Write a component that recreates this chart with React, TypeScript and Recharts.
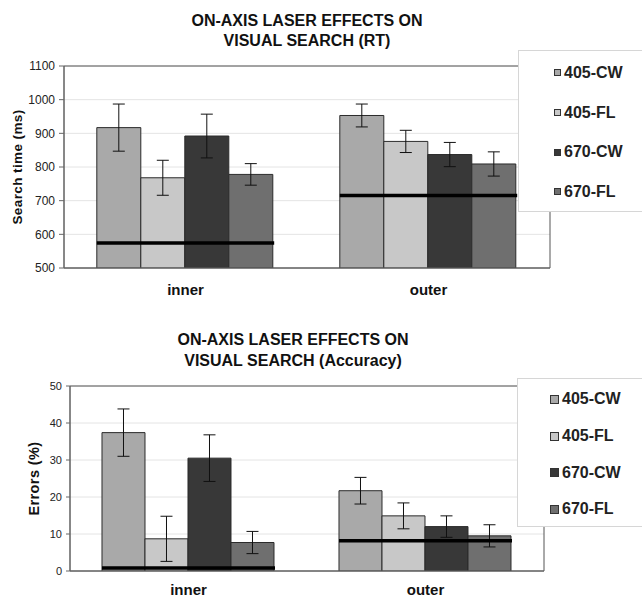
import {
  Bar,
  CartesianGrid,
  ComposedChart,
  ErrorBar,
  Legend,
  Line,
  ReferenceArea,
  XAxis,
  YAxis,
} from 'recharts';

const categories = ['inner', 'outer'];
const seriesNames = ['405-CW', '405-FL', '670-CW', '670-FL'];
const seriesColors = ['#a9a9a9', '#c8c8c8', '#383838', '#6f6f6f'];

// search time (ms)
const rt405cw = [917, 953];
const rt405fl = [768, 876];
const rt670cw = [892, 837];
const rt670fl = [778, 809];
const rtErr405cw = [70, 34];
const rtErr405fl = [52, 33];
const rtErr670cw = [65, 36];
const rtErr670fl = [32, 36];
const rtBaseline = [574, 715];
const rtTicks = [500, 600, 700, 800, 900, 1000, 1100];

// errors (%)
const acc405cw = [37.4, 21.7];
const acc405fl = [8.7, 14.9];
const acc670cw = [30.5, 12.0];
const acc670fl = [7.7, 9.5];
const accErr405cw = [6.4, 3.6];
const accErr405fl = [6.1, 3.5];
const accErr670cw = [6.3, 2.9];
const accErr670fl = [3.0, 3.0];
const accBaseline = [0.8, 8.2];
const accTicks = [0, 10, 20, 30, 40, 50];

const NARROW = "'Liberation Sans Narrow', 'Arial Narrow', 'Liberation Sans', Arial, sans-serif";
const WIDE = "'Liberation Sans', Arial, sans-serif";

const buildRows = (values: number[][], errors: number[][], baseline: number[]) =>
  categories.map((name, i) => {
    const row: Record<string, number | string> = { name, base: baseline[i] };
    values.forEach((v, s) => {
      row[`s${s}`] = v[i];
      row[`e${s}`] = errors[s][i];
    });
    return row;
  });

const rtRows = buildRows(
  [rt405cw, rt405fl, rt670cw, rt670fl],
  [rtErr405cw, rtErr405fl, rtErr670cw, rtErr670fl],
  rtBaseline
);
const accRows = buildRows(
  [acc405cw, acc405fl, acc670cw, acc670fl],
  [accErr405cw, accErr405fl, accErr670cw, accErr670fl],
  accBaseline
);

const GAP = 0.135;

interface PanelProps {
  top: number;
  height: number;
  rows: Record<string, number | string>[];
  ticks: number[];
  yLabel: string;
  font: string;
  axisW: number;
  marginTop: number;
  marginRight: number;
  xAxisH: number;
  tickFont: number;
  tickSize: number;
  catFont: number;
  catMargin: number;
  labelFont: number;
  labelDx: number;
  title: string[];
  titleFont: number;
  titleX: number;
  titleY: number;
  titleLineH: number;
  legend: { left: number; top: number; height: number; itemH: number; padTop: number; swatchX: number; swatch: number; font: number };
}

const Panel = (p: PanelProps) => {
  const width = 642;
  const plotW = width - p.axisW - p.marginRight;
  const halfGroup = ((plotW / categories.length) * (1 - 2 * GAP)) / 2;
  const domain = [p.ticks[0], p.ticks[p.ticks.length - 1]];

  const baseDot = (props: any) => {
    const { cx, cy, index } = props;
    if (cx == null || cy == null) return <g key={`b-${index}`} />;
    return (
      <line
        key={`b-${index}`}
        x1={cx - halfGroup}
        x2={cx + halfGroup}
        y1={cy}
        y2={cy}
        stroke="#000"
        strokeWidth={3.5}
      />
    );
  };

  const renderLegend = (props: any) => {
    const items = (props.payload || []).filter((it: any) => it.type !== 'none');
    return (
      <div
        style={{
          background: '#fff',
          borderTop: '1px solid #d6d6d6',
          borderLeft: '1px solid #d6d6d6',
          borderBottom: '1px solid #d6d6d6',
          height: p.legend.height,
          boxSizing: 'border-box',
          paddingTop: p.legend.padTop,
        }}
      >
        {items.map((it: any) => (
          <div
            key={it.value}
            style={{
              height: p.legend.itemH,
              display: 'flex',
              alignItems: 'center',
              paddingLeft: p.legend.swatchX,
              fontFamily: p.font,
              fontWeight: 'bold',
              fontSize: p.legend.font,
              color: '#222',
            }}
          >
            <span
              style={{
                width: p.legend.swatch,
                height: p.legend.swatch,
                background: it.color,
                border: '1px solid #333',
                boxSizing: 'border-box',
                marginRight: 3,
                display: 'inline-block',
              }}
            />
            <span>{it.value}</span>
          </div>
        ))}
      </div>
    );
  };

  return (
    <div style={{ position: 'absolute', left: 0, top: p.top, width, height: p.height }}>
      <div
        style={{
          position: 'absolute',
          left: p.titleX - 200,
          width: 400,
          top: p.titleY,
          textAlign: 'center',
          fontFamily: p.font,
          fontWeight: 'bold',
          fontSize: p.titleFont,
          lineHeight: `${p.titleLineH}px`,
          color: '#111',
          zIndex: 2,
        }}
      >
        {p.title.map((t) => (
          <div key={t}>{t}</div>
        ))}
      </div>
      <ComposedChart
        width={width}
        height={p.height}
        data={p.rows}
        margin={{ top: p.marginTop, right: p.marginRight, bottom: 0, left: 0 }}
        barCategoryGap={`${GAP * 100}%`}
        barGap={0}
      >
        <CartesianGrid vertical={false} stroke="#e4e4e4" />
        <XAxis
          dataKey="name"
          height={p.xAxisH}
          tickLine={false}
          axisLine={{ stroke: '#666' }}
          tickMargin={p.catMargin}
          tick={{ fontFamily: p.font, fontWeight: 'bold', fontSize: p.catFont, fill: '#111' }}
        />
        <YAxis
          width={p.axisW}
          domain={domain}
          ticks={p.ticks}
          interval={0}
          allowDataOverflow
          tickSize={p.tickSize}
          tickMargin={4}
          tickLine={{ stroke: '#666' }}
          axisLine={{ stroke: '#666' }}
          tick={{ fontFamily: p.font, fontSize: p.tickFont, fill: '#222' }}
          label={{
            value: p.yLabel,
            angle: -90,
            position: 'insideLeft',
            dx: p.labelDx,
            style: {
              textAnchor: 'middle',
              fontFamily: WIDE,
              fontWeight: 'bold',
              fontSize: p.labelFont,
              letterSpacing: 0.4,
              fill: '#111',
            },
          }}
        />
        <ReferenceArea y1={domain[0]} y2={domain[1]} fill="none" stroke="#555" ifOverflow="visible" />
        {seriesNames.map((name, s) => (
          <Bar
            key={name}
            dataKey={`s${s}`}
            name={name}
            fill={seriesColors[s]}
            stroke="#2b2b2b"
            strokeWidth={1}
            isAnimationActive={false}
          >
            <ErrorBar dataKey={`e${s}`} width={6} stroke="#111" strokeWidth={1} />
          </Bar>
        ))}
        <Line
          dataKey="base"
          stroke="none"
          dot={baseDot}
          activeDot={false}
          legendType="none"
          isAnimationActive={false}
        />
        <Legend
          layout="vertical"
          align="center"
          verticalAlign="middle"
          content={renderLegend}
          wrapperStyle={{
            position: 'absolute',
            left: p.legend.left,
            top: p.legend.top,
            width: 642 - p.legend.left + 10,
            height: p.legend.height,
          }}
        />
      </ComposedChart>
    </div>
  );
};

export default function App() {
  return (
    <div
      style={{
        position: 'absolute',
        left: 0,
        top: 0,
        width: 642,
        height: 601,
        overflow: 'hidden',
        background: '#fff',
      }}
    >
      <Panel
        top={0}
        height={300}
        rows={rtRows}
        ticks={rtTicks}
        yLabel="Search time (ms)"
        font={NARROW}
        axisW={64}
        marginTop={66}
        marginRight={92}
        xAxisH={32}
        tickFont={12}
        tickSize={5}
        catFont={15}
        catMargin={10}
        labelFont={13.5}
        labelDx={12}
        title={['ON-AXIS LASER EFFECTS ON', 'VISUAL SEARCH (RT)']}
        titleFont={16}
        titleX={307}
        titleY={11}
        titleLineH={20}
        legend={{ left: 518, top: 50, height: 162, itemH: 39.7, padTop: 2, swatchX: 35, swatch: 7, font: 16 }}
      />
      <Panel
        top={300}
        height={301}
        rows={accRows}
        ticks={accTicks}
        yLabel="Errors (%)"
        font={WIDE}
        axisW={70}
        marginTop={86}
        marginRight={98}
        xAxisH={30}
        tickFont={11}
        tickSize={4}
        catFont={15}
        catMargin={7}
        labelFont={14.5}
        labelDx={29}
        title={['ON-AXIS LASER EFFECTS ON', 'VISUAL SEARCH (Accuracy)']}
        titleFont={16}
        titleX={293}
        titleY={29}
        titleLineH={21}
        legend={{ left: 517, top: 78, height: 149, itemH: 36.7, padTop: 2, swatchX: 32, swatch: 9, font: 16 }}
      />
    </div>
  );
}
